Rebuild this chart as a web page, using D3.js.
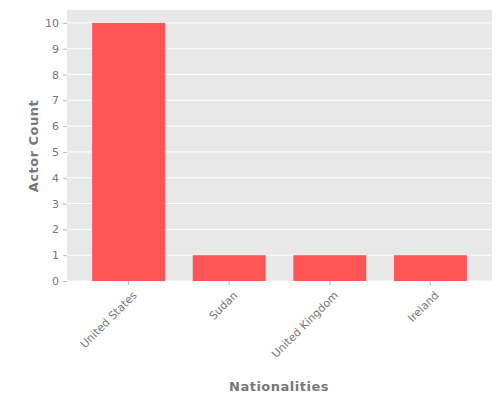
<!DOCTYPE html><html><head><script src="https://cdn.jsdelivr.net/npm/d3@7"></script>
<style>body{margin:0;background:#fff}text{font-family:"DejaVu Sans",sans-serif}</style></head><body>
<svg id="c" width="500" height="400"></svg>
<script>
const categories=["United States","Sudan","United Kingdom","Ireland"];
const values=[10,1,1,1];
const yTicks=[0,1,2,3,4,5,6,7,8,9,10];
const svg=d3.select("#c");
const L=67,R=492,T=10,B=281;
const x=d3.scaleBand().domain(categories).range([L,R]).paddingInner(0.275).paddingOuter(0.25);
const y=d3.scaleLinear().domain([0,10.5]).range([B,T]);
svg.append("rect").attr("x",L).attr("y",T).attr("width",R-L).attr("height",B-T).attr("fill","#e8e8e8");
svg.selectAll(".g").data(yTicks).join("line").attr("x1",L).attr("x2",R).attr("y1",d=>y(d)).attr("y2",d=>y(d)).attr("stroke","#fff").attr("stroke-width",1);
svg.selectAll(".b").data(values).join("rect").attr("x",(d,i)=>x(categories[i])).attr("width",x.bandwidth()).attr("y",d=>y(d)).attr("height",d=>B-y(d)).attr("fill","#ff5555");
const ya=svg.append("g").attr("transform",`translate(${L},0)`).call(d3.axisLeft(y).tickValues(yTicks).tickSize(4).tickPadding(4));
ya.select(".domain").remove();
ya.selectAll("line").attr("stroke","#bbb");
ya.selectAll("text").attr("fill","#777").attr("font-size",11);
const xa=svg.append("g").attr("transform",`translate(0,${B})`).call(d3.axisBottom(x).tickSize(4));
xa.select(".domain").remove();
xa.selectAll("line").attr("stroke","#bbb");
xa.selectAll("text").attr("fill","#777").attr("font-size",11).attr("text-anchor","end").attr("dy","0").attr("transform","translate(4,10) rotate(-45)");
svg.append("text").attr("transform","translate(38,146) rotate(-90)").attr("text-anchor","middle").attr("fill","#777").attr("font-size",13).attr("font-weight","bold").attr("letter-spacing","0.5").text("Actor Count");
svg.append("text").attr("x",279).attr("y",391).attr("text-anchor","middle").attr("fill","#777").attr("font-size",13).attr("font-weight","bold").attr("letter-spacing","0.5").text("Nationalities");
</script></body></html>
